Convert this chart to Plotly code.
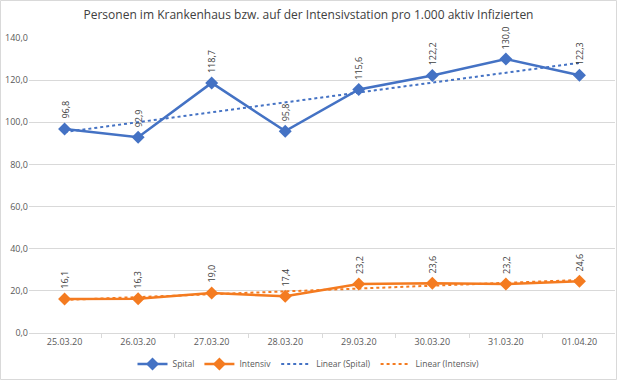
import numpy as np
import plotly.graph_objects as go

dates = ["25.03.20", "26.03.20", "27.03.20", "28.03.20", "29.03.20", "30.03.20", "31.03.20", "01.04.20"]
spital = [96.8, 92.9, 118.7, 95.8, 115.6, 122.2, 130.0, 122.3]
intensiv = [16.1, 16.3, 19.0, 17.4, 23.2, 23.6, 23.2, 24.6]

BLUE = "#4472C4"
ORANGE = "#F47B20"
FONT = "Open Sans"

idx = np.arange(len(dates))
def trend(vals):
    k, d = np.polyfit(idx, vals, 1)
    return list(k * idx + d)

fig = go.Figure()
fig.add_trace(go.Scatter(x=dates, y=spital, name="Spital", mode="lines+markers",
                         line=dict(color=BLUE, width=2.5),
                         marker=dict(symbol="diamond", size=10, color=BLUE)))
fig.add_trace(go.Scatter(x=dates, y=intensiv, name="Intensiv", mode="lines+markers",
                         line=dict(color=ORANGE, width=2.5),
                         marker=dict(symbol="diamond", size=10, color=ORANGE)))
fig.add_trace(go.Scatter(x=dates, y=trend(spital), name="Linear (Spital)", mode="lines",
                         line=dict(color=BLUE, width=2, dash="dot")))
fig.add_trace(go.Scatter(x=dates, y=trend(intensiv), name="Linear (Intensiv)", mode="lines",
                         line=dict(color=ORANGE, width=2, dash="dot")))

for series in (spital, intensiv):
    for d, v in zip(dates, series):
        fig.add_annotation(x=d, y=v, text=f"{v:.1f}".replace(".", ","), textangle=-90,
                           showarrow=False, yanchor="bottom", xanchor="center", yshift=8,
                           font=dict(family=FONT, size=9, color="#404040"))

fig.update_layout(
    width=617, height=380,
    margin=dict(l=29, r=2, t=38, b=47, autoexpand=False),
    paper_bgcolor="white", plot_bgcolor="white",
    separators=",.",
    font=dict(family=FONT, color="#595959", size=9),
    title=dict(text="Personen im Krankenhaus bzw. auf der Intensivstation pro 1.000 aktiv Infizierten",
               x=0.5, xanchor="center", y=0.96, yanchor="middle",
               font=dict(family=FONT, size=12, color="#404040")),
    showlegend=True,
    legend=dict(orientation="h", x=0.5, xanchor="center", xref="container",
                y=0.042, yanchor="middle", yref="container",
                font=dict(family=FONT, size=8.5, color="#595959"), itemwidth=30,
                tracegroupgap=0),
    xaxis=dict(type="category", showgrid=False, showline=True, linecolor="#D9D9D9", linewidth=1,
               ticks="outside", tickson="boundaries", ticklen=4, tickcolor="#D9D9D9",
               tickfont=dict(family=FONT, size=9, color="#595959")),
    yaxis=dict(range=[0, 140], dtick=20, tickformat=".1f", showgrid=True, gridcolor="#D9D9D9",
               gridwidth=1, zeroline=False, showline=False, ticks="",
               tickfont=dict(family=FONT, size=9, color="#595959")),
    shapes=[dict(type="rect", xref="paper", yref="paper",
                 x0=-28.5 / 586, x1=1 + 1.5 / 586, y0=-46.5 / 295, y1=1 + 37.5 / 295,
                 line=dict(color="#D9D9D9", width=1), fillcolor="rgba(0,0,0,0)", layer="below")],
)

fig.write_html("out.html", config={"displayModeBar": False},
               post_script="document.body.style.margin='0';")
